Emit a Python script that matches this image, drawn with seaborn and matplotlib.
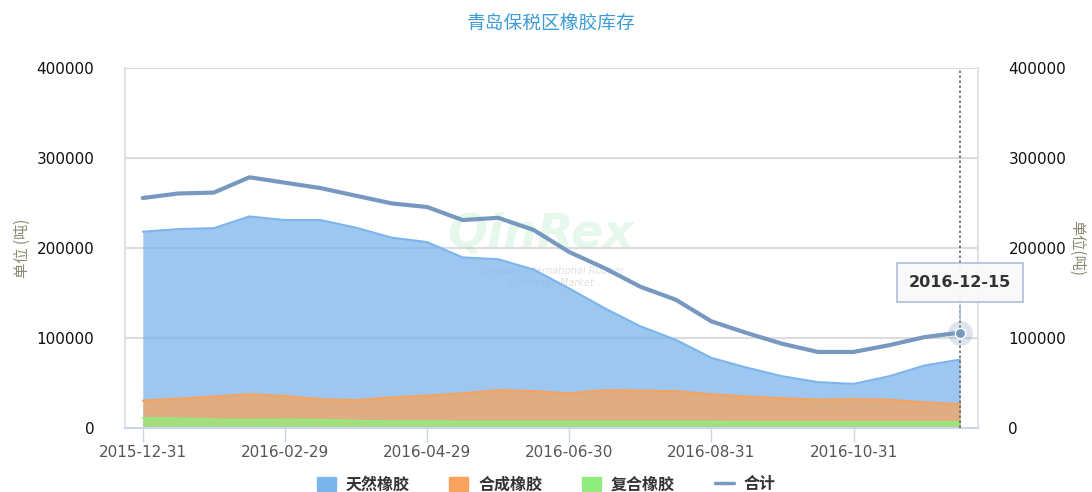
import numpy as np
import pandas as pd
import matplotlib.pyplot as plt
from matplotlib.patches import Patch
from matplotlib.lines import Line2D
import seaborn as sns

# dates of the half-monthly inventory reports
dates = ['2015-12-31', '2016-01-15', '2016-01-31', '2016-02-15', '2016-02-29',
         '2016-03-15', '2016-03-31', '2016-04-15', '2016-04-29', '2016-05-13',
         '2016-05-31', '2016-06-15', '2016-06-30', '2016-07-15', '2016-07-29',
         '2016-08-15', '2016-08-31', '2016-09-14', '2016-09-30', '2016-10-14',
         '2016-10-31', '2016-11-15', '2016-11-30', '2016-12-15']

natural = [218000, 221000, 222000, 235000, 231000, 231000, 222500, 211500, 206500,
           189500, 187500, 176000, 155000, 133000, 113000, 98000, 78000, 67000,
           57500, 51000, 49000, 57500, 69500, 76000]
synthetic = [30500, 32500, 35000, 37500, 35500, 32000, 31000, 34000, 36000, 38500,
             42000, 41000, 38500, 42000, 41500, 41000, 37500, 35000, 33000, 31500,
             32000, 31500, 28500, 26500]
compound = [11000, 10500, 9500, 9000, 9500, 9000, 8000, 7500, 7500, 7000, 7000, 7000,
            7000, 7000, 7000, 7000, 7000, 6500, 6500, 6500, 6500, 6500, 6500, 6500]
total = [255500, 260500, 261500, 278500, 272500, 266500, 258000, 249500, 245500,
         231000, 233500, 220000, 195500, 177500, 157000, 142500, 118500, 105500,
         93500, 84500, 84500, 92000, 101000, 106000]

tick_dates = ['2015-12-31', '2016-02-29', '2016-04-29', '2016-06-30', '2016-08-31', '2016-10-31']

df = pd.DataFrame({'date': dates, 'natural': natural, 'synthetic': synthetic,
                   'compound': compound, 'total': total})
df['i'] = np.arange(len(df))

sns.set_theme(style='white')
plt.rcParams['font.family'] = ['Noto Sans CJK SC', 'DejaVu Sans']

c_nat, c_syn, c_com, c_tot = '#7cb5ec', '#f7a35c', '#90ed7d', '#7798bf'
label_col = '#8d8a72'

fig = plt.figure(figsize=(10.92, 4.92), dpi=100)
ax = fig.add_axes([0.1145, 0.13, 0.781, 0.732])

# areas drawn from zero, overlapping
for col, c in [('natural', c_nat), ('synthetic', c_syn), ('compound', c_com)]:
    ax.fill_between(df['i'], 0, df[col], color=c, alpha=0.75, lw=0, zorder=2)
    sns.lineplot(data=df, x='i', y=col, color=c, lw=1.5, ax=ax, zorder=3)

sns.lineplot(data=df, x='i', y='total', color=c_tot, lw=3, ax=ax, zorder=4)

# watermark
ax.text(11.2, 215000, 'QinRex', fontsize=34, fontweight='bold', fontstyle='italic',
        color='#90dba8', alpha=0.22, ha='center', va='center', zorder=1, family='DejaVu Sans')
ax.text(11.5, 168000, 'Qingdao International Rubber\nExchange Market', fontsize=7,
        fontstyle='italic', color='#999999', alpha=0.3, ha='center', va='center', zorder=1,
        family='DejaVu Sans')

# hover state on last point
last = len(df) - 1
ax.axvline(last, color='#666666', ls=(0, (1.5, 1.5)), lw=1.2, zorder=5)
ax.scatter([last], [total[-1]], s=320, color=c_tot, alpha=0.25, lw=0, zorder=6)
ax.scatter([last], [total[-1]], s=55, color=c_tot, edgecolor='white', lw=1, zorder=7)
ax.annotate(dates[-1], xy=(last, total[-1] + 12000), xytext=(last, 162000),
            ha='center', va='center', fontsize=11.5, fontweight='bold', color='#333333',
            family='DejaVu Sans',
            bbox=dict(boxstyle='square,pad=0.75', fc='#f9f9f9', ec='#a8bbd6', lw=1.2, alpha=0.95),
            arrowprops=dict(arrowstyle='-', color='#a8bbd6', lw=1.2), zorder=8)

ax.set_xlim(-0.5, 23.5)
ax.set_ylim(0, 400000)
ax.set_yticks([0, 100000, 200000, 300000, 400000])
ax.set_yticklabels(['0', '100000', '200000', '300000', '400000'])
ax.set_xticks([dates.index(d) for d in tick_dates])
ax.set_xticklabels(tick_dates)
ax.yaxis.grid(True, color='#dcdcdc', lw=1.5)
ax.tick_params(axis='y', length=0, labelsize=11, labelcolor='#111111', pad=22)
ax.tick_params(axis='x', length=10, width=1, color='#ccd6eb', labelsize=11,
               labelcolor='#555555', bottom=True, pad=2)
for lab in ax.get_yticklabels():
    lab.set_family('DejaVu Sans')
for lab in ax.get_xticklabels():
    lab.set_family('DejaVu Sans')
for s in ['left', 'right', 'top']:
    ax.spines[s].set_color('#e2e2e2')
    ax.spines[s].set_linewidth(1.5)
ax.spines['top'].set_visible(False)
ax.spines['bottom'].set_color('#ccd6eb')
ax.spines['bottom'].set_linewidth(1.5)
ax.set_xlabel('')
ax.set_ylabel('单位 (吨)', color=label_col, fontsize=11, labelpad=4)

ax2 = ax.twinx()
ax2.set_ylim(0, 400000)
ax2.set_yticks([0, 100000, 200000, 300000, 400000])
ax2.set_yticklabels(['0', '100000', '200000', '300000', '400000'])
ax2.tick_params(axis='y', length=0, labelsize=11, labelcolor='#111111', pad=22)
for lab in ax2.get_yticklabels():
    lab.set_family('DejaVu Sans')
ax2.set_ylabel('单位(吨)', color=label_col, fontsize=11, rotation=-90, labelpad=14)
for s in ax2.spines.values():
    s.set_visible(False)

ax.set_title('青岛保税区橡胶库存', color='#3c9bd6', fontsize=13.5, pad=28)

handles = [Patch(color=c_nat, label='天然橡胶'), Patch(color=c_syn, label='合成橡胶'),
           Patch(color=c_com, label='复合橡胶'), Line2D([], [], color=c_tot, lw=2.5, label='合计')]
leg = fig.legend(handles=handles, loc='lower center', ncol=4, frameon=False,
                 bbox_to_anchor=(0.5, -0.03), fontsize=11.5, handlelength=1.2,
                 handleheight=1.0, columnspacing=2.5, handletextpad=0.6)
for t in leg.get_texts():
    t.set_color('#333333')
    t.set_fontweight('bold')

fig.savefig('out.png', dpi=100)
